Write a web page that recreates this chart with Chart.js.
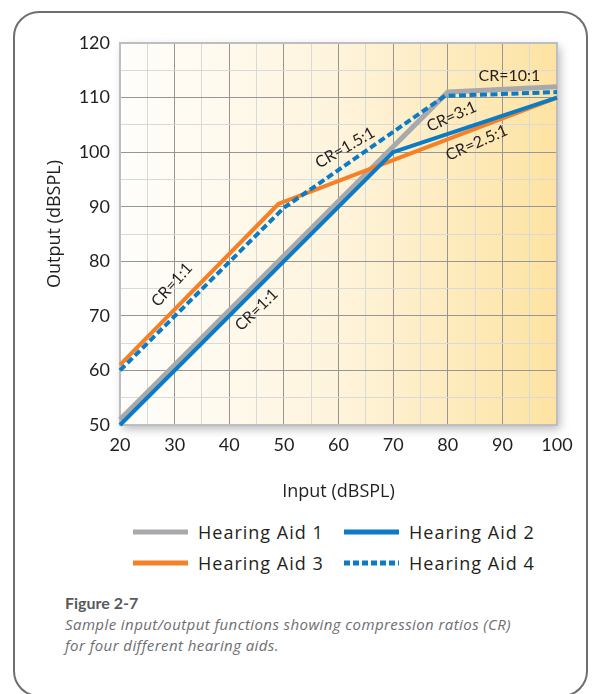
<!DOCTYPE html>
<html>
<head>
<meta charset="utf-8">
<script src="https://cdn.jsdelivr.net/npm/chart.js@4.4.0/dist/chart.umd.min.js"></script>
<style>
    html, body { margin: 0; padding: 0; background: #fff; }
    body { width: 597px; height: 694px; position: relative; overflow: hidden; font-family: "Open Sans", "Noto Sans", sans-serif; color: #231f20; }
    .frame { position: absolute; left: 13px; top: 11px; width: 575px; height: 686px; border: 2px solid #6d6e71; border-radius: 26px; box-sizing: border-box; }
    #wrap { position: absolute; left: 0; top: 0; width: 597px; height: 510px; }
    .item { position: absolute; height: 24px; display: flex; align-items: center; font-size: 18px; letter-spacing: 1px; white-space: nowrap; }
    .item svg { margin-right: 10px; }
    .caption { position: absolute; left: 65px; top: 592px; font-size: 15px; line-height: 21px; }
    .caption b { color: #58595b; font-family: Lato, sans-serif; font-size: 16px; }
    .caption i { color: #6d6e71; display: block; letter-spacing: 0.42px; }
</style>
</head>
<body>
<div class="frame"></div>
<div id="wrap"><canvas id="chart" width="597" height="510"></canvas></div>
<div id="legend"></div>
<div class="caption"><b>Figure 2-7</b><i>Sample input/output functions showing compression ratios (CR)<br>for four different hearing aids.</i></div>
<script>
const SERIES_NAMES = ["Hearing Aid 1", "Hearing Aid 2", "Hearing Aid 3", "Hearing Aid 4"];

// input (dBSPL) / output (dBSPL) knee points for each aid
const AID1_IN = [20, 80, 100];
const AID1_OUT = [51, 111, 112];
const AID2_IN = [20, 70, 100];
const AID2_OUT = [50, 100, 110];
const AID3_IN = [20, 49, 100];
const AID3_OUT = [61, 90.5, 110];
const AID4_IN = [20, 50, 79.5, 100];
const AID4_OUT = [60, 89.8, 110.3, 111];

const X_TICKS = [20, 30, 40, 50, 60, 70, 80, 90, 100];
const Y_TICKS = [50, 60, 70, 80, 90, 100, 110, 120];

// compression ratio notes, placed in data units
const CR_TEXT = ["CR=1:1", "CR=1:1", "CR=1.5:1", "CR=3:1", "CR=2.5:1", "CR=10:1"];
const CR_X = [29.5, 45, 61.2, 80.7, 85.3, 91.3];
const CR_Y = [75.7, 71.1, 100.8, 106.5, 101.7, 113.9];
const CR_ANGLE = [-48, -44, -30, -24, -24, 0];

const GRAY = "#a7a9ac";
const BLUE = "#0a7bc4";
const ORANGE = "#f58025";

function pts(xs, ys) {
    return xs.map((x, i) => ({ x: x, y: ys[i] }));
}

const datasets = [
    { label: SERIES_NAMES[0], data: pts(AID1_IN, AID1_OUT), borderColor: GRAY, borderWidth: 5, order: 4 },
    { label: SERIES_NAMES[1], data: pts(AID2_IN, AID2_OUT), borderColor: BLUE, borderWidth: 4, order: 2 },
    { label: SERIES_NAMES[2], data: pts(AID3_IN, AID3_OUT), borderColor: ORANGE, borderWidth: 4, order: 3 },
    { label: SERIES_NAMES[3], data: pts(AID4_IN, AID4_OUT), borderColor: BLUE, borderWidth: 4, borderDash: [7, 3.5], order: 1 },
].map((d) => Object.assign({ pointRadius: 0, fill: false, tension: 0, clip: false, borderJoinStyle: "round" }, d));

const gridColor = (c) => (c.tick && c.tick.value % 10 === 0 ? "#969696" : "#d9d9d9");

const plotBg = {
    id: "plotBg",
    beforeDraw(chart) {
        const { ctx } = chart;
        const { left, top, right, bottom } = chart.chartArea;
        ctx.save();
        ctx.shadowColor = "rgba(0,0,0,0.28)";
        ctx.shadowBlur = 9;
        ctx.shadowOffsetX = 3;
        ctx.shadowOffsetY = 4;
        const g = ctx.createLinearGradient(left, 0, right, 0);
        g.addColorStop(0, "#fffefc");
        g.addColorStop(0.5, "#fef4dc");
        g.addColorStop(1, "#fde3a2");
        ctx.fillStyle = g;
        ctx.fillRect(left, top, right - left, bottom - top);
        ctx.restore();
    },
    beforeDatasetsDraw(chart) {
        const { ctx } = chart;
        const { left, top, right, bottom } = chart.chartArea;
        ctx.save();
        ctx.strokeStyle = "#bcbec0";
        ctx.lineWidth = 2;
        ctx.strokeRect(left, top, right - left, bottom - top);
        ctx.restore();
    },
};

const notes = {
    id: "notes",
    afterDatasetsDraw(chart) {
        const { ctx } = chart;
        const xs = chart.scales.x;
        const ys = chart.scales.y;
        ctx.save();
        ctx.fillStyle = "#231f20";
        ctx.font = "16px Lato, 'Noto Sans', sans-serif";
        ctx.textAlign = "center";
        ctx.textBaseline = "middle";
        CR_TEXT.forEach((t, i) => {
            ctx.save();
            ctx.translate(xs.getPixelForValue(CR_X[i]), ys.getPixelForValue(CR_Y[i]));
            ctx.rotate((CR_ANGLE[i] * Math.PI) / 180);
            ctx.fillText(t, 0, 0);
            ctx.restore();
        });
        // y axis title
        ctx.font = "18px 'Open Sans', 'Noto Sans', sans-serif";
        ctx.translate(55, 224);
        ctx.rotate(-Math.PI / 2);
        ctx.fillText("Output (dBSPL)", 0, 0);
        ctx.restore();
    },
};

const tickFont = { family: "Lato, 'Noto Sans', sans-serif", size: 18 };

new Chart(document.getElementById("chart"), {
    type: "line",
    data: { datasets },
    options: {
        responsive: false,
        animation: false,
        layout: { padding: { top: 43, right: 40, left: 0, bottom: 0 } },
        plugins: { legend: { display: false }, tooltip: { enabled: false } },
        scales: {
            x: {
                type: "linear",
                min: 20,
                max: 100,
                afterFit(s) { s.height = 85; },
                border: { display: false },
                grid: { color: gridColor, lineWidth: 1, drawTicks: false },
                ticks: {
                    stepSize: 5,
                    autoSkip: false,
                    maxRotation: 0,
                    padding: 9,
                    color: "#231f20",
                    font: tickFont,
                    callback: (v) => (X_TICKS.includes(v) ? String(v) : ""),
                },
                title: {
                    display: true,
                    text: "Input (dBSPL)",
                    color: "#231f20",
                    font: { family: "'Open Sans', 'Noto Sans', sans-serif", size: 18 },
                    padding: { bottom: 7 },
                },
            },
            y: {
                type: "linear",
                min: 50,
                max: 120,
                afterFit(s) { s.width = 120; },
                border: { display: false },
                grid: { color: gridColor, lineWidth: 1, drawTicks: false },
                ticks: {
                    stepSize: 5,
                    autoSkip: false,
                    padding: 10,
                    color: "#231f20",
                    font: tickFont,
                    callback: (v) => (Y_TICKS.includes(v) ? String(v) : ""),
                },
            },
        },
    },
    plugins: [plotBg, notes],
});

// legend, two columns
const LEGEND_LEFT = [133, 344, 133, 344];
const LEGEND_TOP = [520, 520, 551, 551];
const legend = document.getElementById("legend");
datasets.forEach((d, i) => {
    const item = document.createElement("div");
    item.className = "item";
    item.style.left = LEGEND_LEFT[i] + "px";
    item.style.top = LEGEND_TOP[i] + "px";
    const dash = d.borderDash ? `stroke-dasharray="6 3"` : "";
    item.innerHTML =
        `<svg width="55" height="8"><line x1="0" y1="4" x2="55" y2="4" stroke="${d.borderColor}" stroke-width="5" ${dash}/></svg>` +
        `<span>${d.label}</span>`;
    legend.appendChild(item);
});
</script>
</body>
</html>
